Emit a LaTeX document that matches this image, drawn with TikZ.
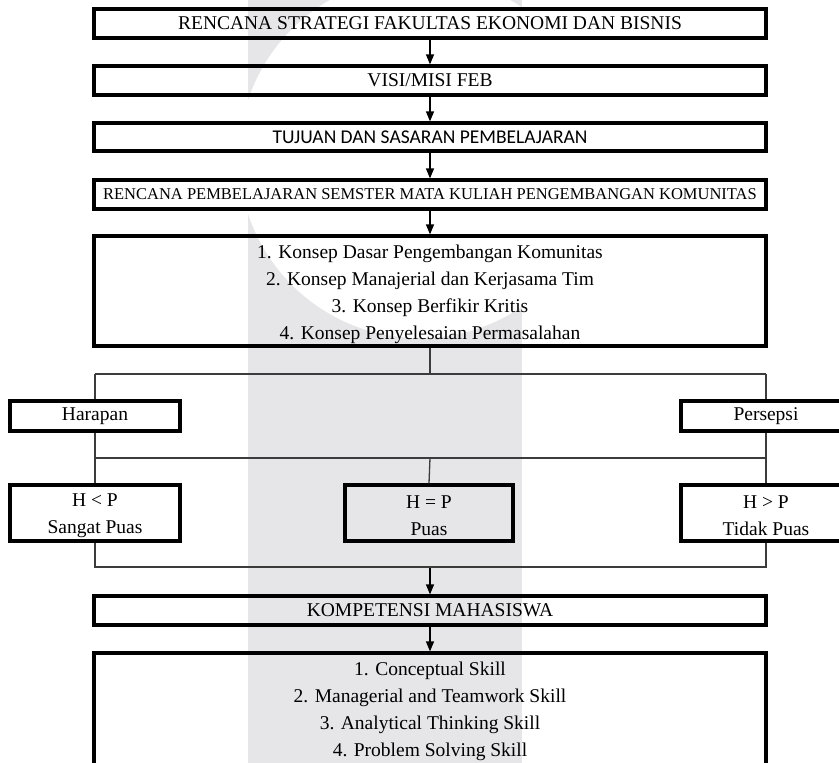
\documentclass[tikz,border=0pt]{standalone}
\usepackage{fontspec}
\setmainfont{Liberation Serif}
\newfontfamily\calib{Carlito}
\usetikzlibrary{arrows.meta}
\definecolor{wm}{RGB}{230,230,233}
\definecolor{ln}{RGB}{60,60,60}
\begin{document}
\begin{tikzpicture}[x=1pt,y=-1pt,
  box/.style={draw=black,line width=3.2pt,inner sep=0pt,align=center,
    font=\fontsize{19.5}{27}\selectfont},
  wide/.style={box,minimum width=672pt},
  side/.style={box,minimum width=170pt},
  arr/.style={line width=1.2pt,-{Triangle[width=8pt,length=10pt]}},
  conn/.style={draw=ln,line width=1.3pt}]
\useasboundingbox (0,0) rectangle (839,763);
\fill[white] (0,0) rectangle (839,763);
% watermark
\begin{scope}
\clip (248,0) rectangle (522,763);
\fill[wm] (248,0) rectangle (522,763);
\fill[white] (420,157) circle (181);
\end{scope}
% main column
\node[wide,minimum height=29pt] (b1) at (430,23.5) {RENCANA STRATEGI FAKULTAS EKONOMI DAN BISNIS};
\node[wide,minimum height=29pt] (b2) at (430,80.5) {VISI/MISI FEB};
\node[wide,minimum height=28pt,font=\calib\fontsize{19.5}{24}\selectfont] (b3) at (430,137) {TUJUAN DAN SASARAN PEMBELAJARAN};
\node[wide,minimum height=29pt,font=\fontsize{16.5}{20}\selectfont] (b4) at (430,194.5) {RENCANA PEMBELAJARAN SEMSTER MATA KULIAH PENGEMBANGAN KOMUNITAS};
\node[wide,minimum height=110pt] (b5) at (430,291) {\rule{0pt}{21pt}1. Konsep Dasar Pengembangan Komunitas\\2. Konsep Manajerial dan Kerjasama Tim\\3. Konsep Berfikir Kritis\\4. Konsep Penyelesaian Permasalahan};
% comparison
\node[side,minimum height=30pt] (har) at (95,416) {Harapan};
\node[side,minimum height=30pt] (per) at (766,416) {Persepsi};
\node[side,minimum height=56pt] (hlp) at (95,513) {\rule{0pt}{19pt}H < P\\Sangat Puas};
\node[side,minimum width=168pt,minimum height=56pt] (heq) at (429,513) {\rule{0pt}{19pt}H = P\\Puas};
\node[side,minimum height=56pt] (hgp) at (766,513) {\rule{0pt}{19pt}H > P\\Tidak Puas};
\node[wide,minimum height=29pt] (b6) at (430,610.5) {KOMPETENSI MAHASISWA};
\node[wide,minimum height=112pt] (b7) at (430,709) {\rule{0pt}{19pt}1. Conceptual Skill\\2. Managerial and Teamwork Skill\\3. Analytical Thinking Skill\\4. Problem Solving Skill};
% junction coordinates
\coordinate (t0) at (430,374);
\coordinate (tl) at (95,374);
\coordinate (tr) at (766,374);
\coordinate (ml) at (95,458);
\coordinate (mr) at (766,458);
\coordinate (mc) at (430,458);
\coordinate (bl) at (95,567);
\coordinate (br) at (766,567);
\coordinate (bc) at (430,567);
% arrows
\draw[arr] (b1) -- (b2);
\draw[arr] (b2) -- (b3);
\draw[arr] (b3) -- (b4);
\draw[arr] (b4) -- (b5);
\draw[arr] (bc) -- (b6.north);
\draw[arr] (b6) -- (b7);
% tree lines
\draw[conn] (b5.south) -- (t0);
\draw[conn] (tl) -- (tr);
\draw[conn] (tl) -- (har.north);
\draw[conn] (tr) -- (per.north);
\draw[conn] (har.south) -- (hlp.north);
\draw[conn] (per.south) -- (hgp.north);
\draw[conn] (ml) -- (mr);
\draw[conn] (mc) -- (heq.north);
\draw[conn] (hlp.south) -- (bl) -- (br) -- (hgp.south);
\end{tikzpicture}
\end{document}
